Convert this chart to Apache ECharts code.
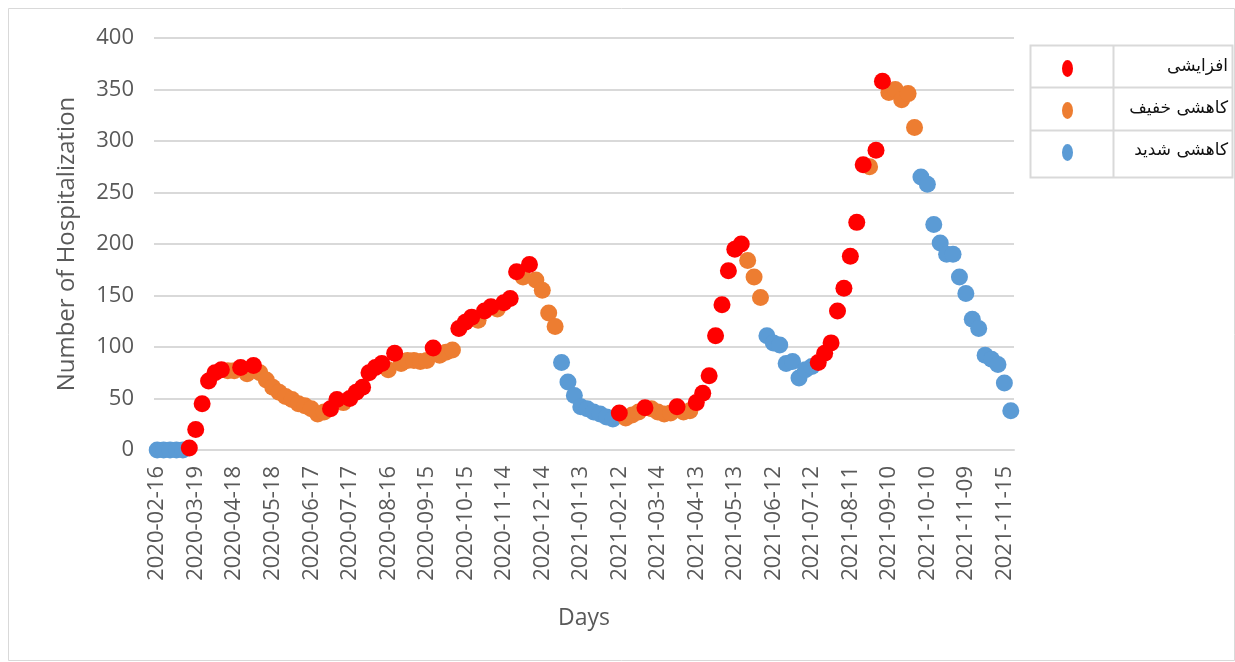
<!DOCTYPE html>
<html>
<head>
<meta charset="utf-8">
<title>Hospitalization</title>
<script src="https://cdn.jsdelivr.net/npm/echarts@6/dist/echarts.min.js"></script>
<style>
  html, body { margin: 0; padding: 0; background: #fff; }
  #main { width: 1235px; height: 662px; }
</style>
</head>
<body>
<div id="main"></div>
<script>
// labels shown on the x axis (one every 6th sample)
var tickDates = ['2020-02-16', '2020-03-19', '2020-04-18', '2020-05-18', '2020-06-17', '2020-07-17',
  '2020-08-16', '2020-09-15', '2020-10-15', '2020-11-14', '2020-12-14', '2021-01-13', '2021-02-12',
  '2021-03-14', '2021-04-13', '2021-05-13', '2021-06-12', '2021-07-12', '2021-08-11', '2021-09-10',
  '2021-10-10', '2021-11-09', '2021-11-15'];

// number of hospitalizations
var hospitalization = [
  0, 0, 0, 0, 0, 2, 20, 45, 67, 75, 78, 77, 77, 80, 74, 82, 75, 68, 61, 56,
  52, 49, 45, 43, 40, 35, 37, 40, 49, 46, 50, 56, 61, 75, 80, 84, 78, 94, 84, 87,
  87, 86, 87, 99, 92, 95, 97, 118, 124, 129, 126, 135, 139, 137, 143, 147, 173, 168, 180, 165,
  155, 133, 120, 85, 66, 53, 42, 40, 37, 35, 32, 30, 36, 31, 34, 37, 41, 40, 37, 35,
  36, 42, 37, 38, 46, 55, 72, 111, 141, 174, 195, 200, 184, 168, 148, 111, 104, 102, 84, 86,
  70, 78, 81, 85, 94, 104, 135, 157, 188, 221, 277, 275, 291, 358, 347, 350, 340, 346, 313, 265,
  258, 219, 201, 190, 190, 168, 152, 127, 118, 92, 88, 83, 65, 38
];

// trend of each sample: u = increasing, s = slight decrease, d = sharp decrease
var trend = [
  'd', 'd', 'd', 'd', 'd', 'u', 'u', 'u', 'u', 'u', 'u', 's', 's', 'u', 's', 'u', 's', 's', 's', 's',
  's', 's', 's', 's', 's', 's', 's', 'u', 'u', 's', 'u', 'u', 'u', 'u', 'u', 'u', 's', 'u', 's', 's',
  's', 's', 's', 'u', 's', 's', 's', 'u', 'u', 'u', 's', 'u', 'u', 's', 'u', 'u', 'u', 's', 'u', 's',
  's', 's', 's', 'd', 'd', 'd', 'd', 'd', 'd', 'd', 'd', 'd', 'u', 's', 's', 's', 'u', 's', 's', 's',
  's', 'u', 's', 's', 'u', 'u', 'u', 'u', 'u', 'u', 'u', 'u', 's', 's', 's', 'd', 'd', 'd', 'd', 'd',
  'd', 'd', 'd', 'u', 'u', 'u', 'u', 'u', 'u', 'u', 'u', 's', 'u', 'u', 's', 's', 's', 's', 's', 'd',
  'd', 'd', 'd', 'd', 'd', 'd', 'd', 'd', 'd', 'd', 'd', 'd', 'd', 'd'
];

var seriesNames = { u: 'افزایشی', s: 'کاهشی خفیف', d: 'کاهشی شدید' };
var seriesColors = { u: '#ff0000', s: '#ed7d31', d: '#5b9bd5' };
var legendOrder = ['u', 's', 'd'];

// category dates: six samples between two labelled dates
var days = [];
for (var k = 0; k < tickDates.length - 1; k++) {
  var a = Date.parse(tickDates[k]), b = Date.parse(tickDates[k + 1]);
  for (var j = 0; j < 6; j++) {
    var step = Math.round((b - a) / 86400000 * j / 6);
    days.push(new Date(a + step * 86400000).toISOString().slice(0, 10));
  }
}
days.push(tickDates[tickDates.length - 1]);
days.push('2021-11-16');

function pick(cls) {
  var out = [];
  for (var i = 0; i < hospitalization.length; i++) {
    if (trend[i] === cls) out.push([days[i], hospitalization[i]]);
  }
  return out;
}

var fontColor = '#595959';
var font = 'Open Sans';
var ellipse = 'path://M50,0A50,50,0,1,1,50,100A50,50,0,1,1,50,0Z';

var chart = echarts.init(document.getElementById('main'));

// blue first, red last so that red sits on top
var series = ['d', 's', 'u'].map(function (cls) {
  return {
    name: seriesNames[cls],
    type: 'scatter',
    symbol: 'circle',
    symbolSize: 17,
    itemStyle: { color: seriesColors[cls], opacity: 1 },
    emphasis: { disabled: true },
    data: pick(cls)
  };
});

// legend: one column of markers, and the names right-aligned in the right cell
var legends = [{
  orient: 'vertical',
  left: 1057,
  top: 55,
  itemWidth: 11,
  itemHeight: 17,
  itemGap: 25,
  icon: ellipse,
  symbolKeepAspect: false,
  selectedMode: false,
  data: legendOrder.map(function (c) { return seriesNames[c]; }),
  formatter: function () { return ''; },
  textStyle: { fontSize: 10 }
}];
legendOrder.forEach(function (c, r) {
  legends.push({
    right: 7,
    top: 55 + r * 42,
    padding: 0,
    icon: 'none',
    itemWidth: 0,
    itemHeight: 10,
    selectedMode: false,
    data: [seriesNames[c]],
    textStyle: { fontSize: 17, fontFamily: 'DejaVu Sans', color: '#111', lineHeight: 24 }
  });
});

chart.setOption({
  animation: false,
  backgroundColor: '#fff',
  grid: { left: 154, right: 221, top: 38, bottom: 212 },
  legend: legends,
  xAxis: {
    type: 'category',
    data: days,
    name: 'Days',
    nameLocation: 'middle',
    nameGap: 157,
    nameTextStyle: { color: fontColor, fontSize: 23, fontFamily: font },
    axisLine: { show: true, lineStyle: { color: '#d9d9d9', width: 2 } },
    axisTick: { show: false },
    axisLabel: {
      rotate: 90,
      interval: 5,
      margin: 16,
      color: fontColor,
      fontSize: 22,
      fontFamily: font
    },
    splitLine: { show: false }
  },
  yAxis: {
    type: 'value',
    min: 0,
    max: 400,
    interval: 50,
    name: 'Number of Hospitalization',
    nameLocation: 'middle',
    nameGap: 75,
    nameTextStyle: { color: fontColor, fontSize: 24, fontFamily: font },
    axisLine: { show: false },
    axisTick: { show: false },
    axisLabel: { color: fontColor, fontSize: 22, fontFamily: font, margin: 20 },
    splitLine: { lineStyle: { color: '#d9d9d9', width: 2 } }
  },
  graphic: [
    { type: 'rect', shape: { x: 8.5, y: 8.5, width: 1226, height: 652 }, style: { fill: null, stroke: '#d9d9d9', lineWidth: 1 }, silent: true },
    { type: 'rect', shape: { x: 1030.5, y: 45.5, width: 202, height: 132 }, style: { fill: null, stroke: '#d9d9d9', lineWidth: 2 }, silent: true },
    { type: 'line', shape: { x1: 1030, y1: 87.5, x2: 1232, y2: 87.5 }, style: { stroke: '#d9d9d9', lineWidth: 2 }, silent: true },
    { type: 'line', shape: { x1: 1030, y1: 130.5, x2: 1232, y2: 130.5 }, style: { stroke: '#d9d9d9', lineWidth: 2 }, silent: true },
    { type: 'line', shape: { x1: 1113.5, y1: 45, x2: 1113.5, y2: 177 }, style: { stroke: '#d9d9d9', lineWidth: 2 }, silent: true }
  ],
  series: series
});
</script>
</body>
</html>
